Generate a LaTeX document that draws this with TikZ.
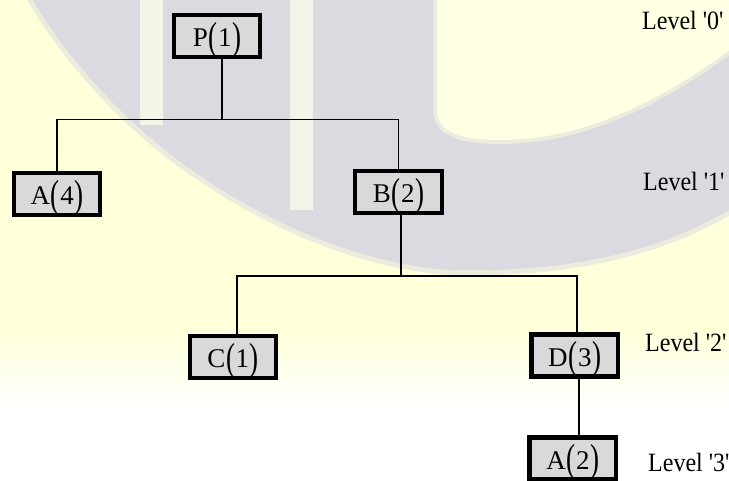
\documentclass[tikz,border=0pt]{standalone}
\usepackage{fontspec}
\setmainfont{Liberation Serif}
\newfontfamily\lvlfont{Liberation Serif}
\usepackage{graphicx}
\definecolor{wmgray}{RGB}{218,218,224}
\definecolor{wmgrayedge}{RGB}{236,236,222}
\definecolor{wmyellow}{RGB}{255,255,218}
\definecolor{wminner}{RGB}{255,255,228}
\definecolor{wmstripe}{RGB}{244,244,232}
\definecolor{boxfill}{RGB}{217,217,217}
\newcommand\tpar[1]{\raisebox{-2.5pt}{\scalebox{1}[1.45]{#1}}}
\newcommand\lbl[2]{#1\kern0.8pt\tpar{(}\kern0.6pt#2\kern0.6pt\tpar{)}}
\newcommand\lvltext[1]{\scalebox{1}[1.1]{#1}}
\tikzset{
  tbox/.style={draw=black, line width=4.2pt, fill=boxfill, minimum width=86.5pt,
    minimum height=42pt, inner sep=0pt, text height=21.4pt, text depth=0pt,
    font=\fontsize{27}{30}\selectfont},
  conn/.style={line width=1.7pt, draw=black},
  lvl/.style={anchor=base west, inner sep=0pt, font=\lvlfont\fontsize{24}{28}\selectfont}
}
\begin{document}
\begin{tikzpicture}[x=1pt,y=-1pt]
\useasboundingbox (0,0) rectangle (729,481);
\begin{scope}
\clip (0,0) rectangle (729,481);
% watermark background
\fill[white] (0,0) rectangle (729,481);
\fill[wmyellow] (0,0) rectangle (729,330);
\shade[top color=wmyellow, bottom color=white] (0,330) rectangle (729,410);
\path[fill=wmgray, draw=wmgrayedge, line width=10pt] (33,0) -- (729,0) -- (729,210)
  .. controls (640,262) and (540,272) .. (450,270)
  .. controls (330,262) and (200,190) .. (120,110)
  .. controls (80,70) and (50,30) .. (33,0) -- cycle;
\fill[wmgray] (33,0) -- (729,0) -- (729,210)
  .. controls (640,262) and (540,272) .. (450,270)
  .. controls (330,262) and (200,190) .. (120,110)
  .. controls (80,70) and (50,30) .. (33,0) -- cycle;
\path[fill=wminner, draw=wmgrayedge, line width=8pt] (437,-10) -- (437,110)
  .. controls (437,132) and (460,140) .. (500,140)
  .. controls (590,140) and (670,95) .. (739,43) -- (739,-10) -- cycle;
\fill[wminner] (437,-10) -- (437,110)
  .. controls (437,132) and (460,140) .. (500,140)
  .. controls (590,140) and (670,95) .. (739,43) -- (739,-10) -- cycle;
\fill[wmstripe] (140,0) rectangle (163,125);
\fill[wmstripe] (290,0) rectangle (313,210);
% tree
\node[tbox] (P)  at (217,36)    {\lbl{P}{1}};
\node[tbox] (A4) at (57,194)    {\lbl{A}{4}};
\node[tbox] (B)  at (398.5,192) {\lbl{B}{2}};
\node[tbox] (C)  at (233,357)   {\lbl{C}{1}};
\node[tbox] (D)  at (574.7,355.5) {\lbl{D}{3}};
\node[tbox] (A2) at (572.8,458.5) {\lbl{A}{2}};
\coordinate (j1) at (222,119.5);
\coordinate (j2) at (400.7,276);
\coordinate (cx) at (237,0);
\coordinate (dx) at (577,0);
\coordinate (ex) at (579,0);
\draw[conn] (j1 |- P.south) -- (j1);
\draw[conn] (A4.north) |- (j1) -| (B.north);
\draw[conn] (j2 |- B.south) -- (j2);
\draw[conn] (cx |- C.north) |- (j2) -| (dx |- D.north);
\draw[conn] (ex |- D.south) -- (ex |- A2.north);
% level labels
\node[lvl] (L0) at (642,30)  {\lvltext{Level '0'}};
\node[lvl] (L1) at (643,191) {\lvltext{Level '1'}};
\node[lvl] (L2) at (645,352) {\lvltext{Level '2'}};
\node[lvl] (L3) at (648,471) {\lvltext{Level '3'}};
\end{scope}
\end{tikzpicture}
\end{document}
